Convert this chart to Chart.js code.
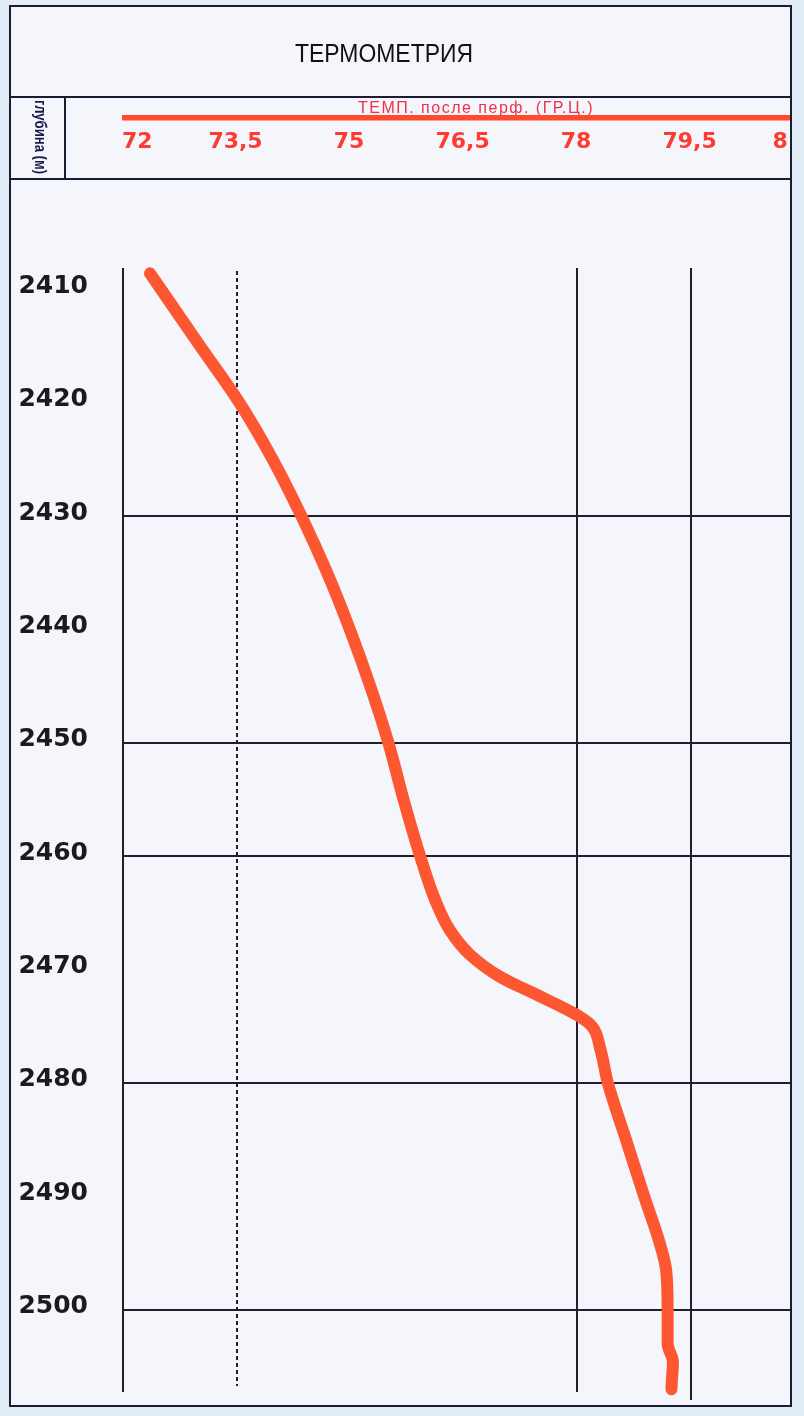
<!DOCTYPE html>
<html>
<head>
<meta charset="utf-8">
<script src="https://cdn.jsdelivr.net/npm/chart.js@4/dist/chart.umd.min.js"></script>
<style>
  html, body { margin: 0; padding: 0; background: #e3edf7; }
  canvas { display: block; }
</style>
</head>
<body>
<canvas id="c" width="804" height="1416" style="width:804px;height:1416px"></canvas>
<script>
// ---- data ----
const titleText = 'ТЕРМОМЕТРИЯ';
const seriesName = 'ТЕМП. после перф. (ГР.Ц.)';
const depthAxisName = 'глубина (м)';

const depthTicks = [2410, 2420, 2430, 2440, 2450, 2460, 2470, 2480, 2490, 2500];
const depthGrid = [2430, 2450, 2460, 2480, 2500];
const tempTicks = [72, 73.5, 75, 76.5, 78, 79.5, 81];
const tempTickLabels = ['72', '73,5', '75', '76,5', '78', '79,5', '81'];
const tempGridSolid = [72, 78, 79.5];
const tempGridDotted = [73.5];

const depthM = [2408.6, 2415.0, 2420.0, 2425.0, 2430.0, 2435.0, 2440.0, 2445.0, 2450.0, 2455.0,
  2460.0, 2463.9, 2466.5, 2468.7, 2470.65, 2472.06, 2474.0, 2475.0, 2477.0, 2480.0,
  2485.0, 2490.0, 2494.0, 2496.5, 2500.0, 2503.0, 2504.6, 2505.8, 2507.0];
const tempC = [72.37, 73.03, 73.55, 73.99, 74.37, 74.71, 75.01, 75.28, 75.52, 75.72,
  75.94, 76.14, 76.33, 76.60, 77.00, 77.43, 78.01, 78.21, 78.32, 78.42,
  78.66, 78.90, 79.10, 79.19, 79.21, 79.21, 79.28, 79.27, 79.26];

// ---- decorations plugin ----
const FRAME = { l: 10, r: 791, t: 6, b: 1406 };
const decor = {
  id: 'decor',
  beforeDraw(chart) {
    const ctx = chart.ctx;
    const xs = chart.scales.x;
    ctx.save();
    ctx.fillStyle = '#e3edf7';
    ctx.fillRect(0, 0, 804, 1416);
    ctx.fillStyle = '#f4f6fb';
    ctx.fillRect(FRAME.l, FRAME.t, FRAME.r - FRAME.l, FRAME.b - FRAME.t);
    ctx.strokeStyle = '#1c1c30';
    ctx.lineWidth = 2;
    ctx.strokeRect(FRAME.l, FRAME.t, FRAME.r - FRAME.l, FRAME.b - FRAME.t);
    ctx.beginPath();
    ctx.moveTo(FRAME.l, 97); ctx.lineTo(FRAME.r, 97);
    ctx.moveTo(FRAME.l, 179); ctx.lineTo(FRAME.r, 179);
    ctx.moveTo(65, 97); ctx.lineTo(65, 179);
    ctx.stroke();
    // title
    ctx.fillStyle = '#111111';
    ctx.font = '25px "Liberation Sans", Arial, sans-serif';
    ctx.textAlign = 'center';
    ctx.textBaseline = 'alphabetic';
    ctx.fillText(titleText, 384, 62, 178);
    // rotated depth axis name
    ctx.save();
    ctx.translate(39, 137);
    ctx.rotate(Math.PI / 2);
    ctx.fillStyle = '#1a1a4a';
    ctx.font = 'bold 16px "Liberation Sans", Arial, sans-serif';
    ctx.textAlign = 'center';
    ctx.textBaseline = 'middle';
    ctx.fillText(depthAxisName, 0, 0, 74);
    ctx.restore();
    // series name
    ctx.fillStyle = '#f0304c';
    ctx.font = '16px "Liberation Sans", Arial, sans-serif';
    if ('letterSpacing' in ctx) ctx.letterSpacing = '1.5px';
    ctx.textAlign = 'center';
    ctx.fillText(seriesName, 476, 112.5, 241);
    if ('letterSpacing' in ctx) ctx.letterSpacing = '0px';
    // red bar
    ctx.fillStyle = '#ff4b2b';
    const x0 = xs.getPixelForValue(tempTicks[0]);
    ctx.fillRect(x0, 115, FRAME.r - 1 - x0, 5.5);
    // header tick labels
    ctx.save();
    ctx.beginPath();
    ctx.rect(FRAME.l, 100, FRAME.r - 1 - FRAME.l, 78);
    ctx.clip();
    ctx.fillStyle = '#ff3a30';
    ctx.font = 'bold 22px "DejaVu Sans", sans-serif';
    tempTicks.forEach((v, i) => {
      const px = xs.getPixelForValue(v);
      ctx.textAlign = i === 0 ? 'left' : (i === tempTicks.length - 1 ? 'right' : 'center');
      ctx.fillText(tempTickLabels[i], px, 148);
    });
    ctx.restore();
    ctx.restore();
  },
  beforeDatasetsDraw(chart) {
    const ctx = chart.ctx;
    const xs = chart.scales.x;
    const a = chart.chartArea;
    ctx.save();
    ctx.strokeStyle = '#20202a';
    ctx.lineWidth = 2;
    tempGridSolid.forEach((v, i) => {
      const px = Math.round(xs.getPixelForValue(v)) + 1;
      ctx.beginPath();
      ctx.moveTo(px, a.top);
      ctx.lineTo(px, i === tempGridSolid.length - 1 ? a.bottom + 8 : a.bottom);
      ctx.stroke();
    });
    ctx.setLineDash([4, 3]);
    tempGridDotted.forEach(v => {
      const px = Math.round(xs.getPixelForValue(v)) + 1;
      ctx.beginPath();
      ctx.moveTo(px, a.top + 3);
      ctx.lineTo(px, a.bottom - 6);
      ctx.stroke();
    });
    ctx.restore();
  }
};

new Chart(document.getElementById('c'), {
  type: 'line',
  data: {
    datasets: [{
      label: seriesName,
      data: depthM.map((d, i) => ({ x: tempC[i], y: d })),
      borderColor: '#fc5730',
      borderWidth: 12,
      borderCapStyle: 'round',
      borderJoinStyle: 'round',
      pointRadius: 0,
      cubicInterpolationMode: 'monotone',
      fill: false,
      clip: false
    }]
  },
  options: {
    indexAxis: 'y',
    responsive: false,
    maintainAspectRatio: false,
    animation: false,
    layout: { padding: { left: 0, top: 268, right: 13, bottom: 24 } },
    plugins: { legend: { display: false }, tooltip: { enabled: false } },
    scales: {
      x: { type: 'linear', min: 72, max: 80.84, display: false },
      y: {
        type: 'linear',
        reverse: true,
        min: 2408.13,
        max: 2507.25,
        afterFit: s => { s.width = 122; s.paddingTop = 0; s.paddingBottom = 0; },
        afterBuildTicks: s => { s.ticks = depthTicks.map(v => ({ value: v })); },
        ticks: {
          padding: 34,
          labelOffset: -3,
          color: '#1b1b1b',
          autoSkip: false,
          callback: v => String(v),
          font: { family: 'DejaVu Sans', weight: 'bold', size: 25 }
        },
        grid: {
          drawTicks: false,
          lineWidth: 2,
          color: c => (c.tick && depthGrid.includes(c.tick.value)) ? '#20202c' : 'rgba(0,0,0,0)'
        },
        border: { display: false }
      }
    }
  },
  plugins: [decor]
});
</script>
</body>
</html>
